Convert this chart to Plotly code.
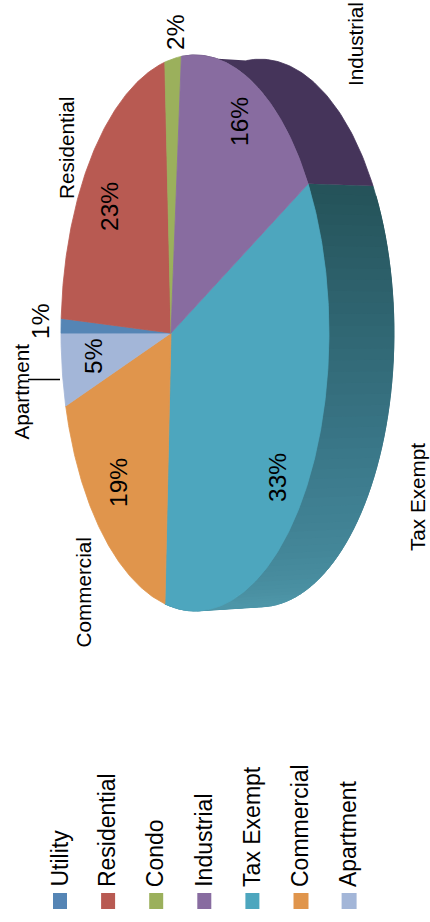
import numpy as np
import plotly.graph_objects as go

# Data
categories = ["Utility", "Residential", "Condo", "Industrial", "Tax Exempt", "Commercial", "Apartment"]
shares = [1, 23, 2, 16, 33, 19, 5]
colors = ["#5585b5", "#b85a52", "#9bb05c", "#886ca0", "#4da6be", "#e0954c", "#a3b6d8"]
draw_order = ["Tax Exempt", "Commercial", "Apartment", "Utility", "Residential", "Condo", "Industrial"]
outside_labels = ["Industrial", "Residential", "Apartment", "Commercial", "Tax Exempt"]

# Style / layout
W, H = 430, 922
FONT = "Liberation Sans"
CX, CY = 171.0, 333.0
A, B, K = 129.7, 273.5, 0.179   # projected-disc shape
DEPTH = 65.0
RIM_SQUEEZE = 0.985
START = 27.3
SIDE_DARK = np.array([0x25, 0x53, 0x5a])
SIDE_MID = np.array([0x3d, 0x7c, 0x8e])
SIDE_LIGHT = np.array([0x4e, 0x96, 0xa8])
IND_SIDE = "#45345a"
pct_pos = {"Condo": (175, 33), "Industrial": (239, 122), "Residential": (109, 207), "Utility": (40, 322),
           "Apartment": (93, 357), "Commercial": (118, 483), "Tax Exempt": (277, 478)}
lab_pos = {"Industrial": (355, 44), "Residential": (66, 148), "Apartment": (20.5, 392),
           "Commercial": (82.5, 593), "Tax Exempt": (417, 497)}


def rim(theta_deg):
    t = np.radians(theta_deg)
    u, v = np.cos(t), np.sin(t)
    d = 1 - K * u
    return CX + A * u / d, CY - B * v / d


def wall(x, y):
    yb = CY + (y - CY) * RIM_SQUEEZE
    return np.r_[x, x[::-1] + DEPTH], np.r_[y, yb[::-1]]


value = dict(zip(categories, shares))
color = dict(zip(categories, colors))
total = sum(shares)
fig = go.Figure()

spans = {}
a = START
for c in draw_order:
    s = value[c] / total * 360
    spans[c] = (a, a - s)
    a -= s


def add_poly(xs, ys, col, name):
    fig.add_trace(go.Scatter(x=xs, y=ys, mode="lines", fill="toself", fillcolor=col,
                             line=dict(color=col, width=0.8), hoverinfo="text", text=name,
                             showlegend=False))


# side wall: Industrial
a0, a1 = spans["Industrial"]
th = np.linspace(a0, a1, 60)
x, y = rim(th)
wx, wy = wall(x, y)
add_poly(wx, wy, IND_SIDE, "Industrial")

# side wall: Tax Exempt, shaded in narrow overlapping strips
a0, a1 = spans["Tax Exempt"]
edges = np.linspace(a0, a1, 61)
for i in range(60):
    th = np.linspace(edges[i], edges[min(i + 2, 60)], 5)
    x, y = rim(th)
    f = i / 59
    if f < 0.45:
        c = SIDE_DARK + (SIDE_MID - SIDE_DARK) * (f / 0.45)
    else:
        c = SIDE_MID + (SIDE_LIGHT - SIDE_MID) * min((f - 0.45) / 0.35, 1)
    col = "rgb(%d,%d,%d)" % tuple(c)
    wx, wy = wall(x, y)
    add_poly(wx, wy, col, "Tax Exempt")

# top face
for c in draw_order:
    a0, a1 = spans[c]
    th = np.linspace(a0, a1, max(4, int(abs(a0 - a1)) * 2))
    x, y = rim(th)
    add_poly(np.r_[CX, x, CX], np.r_[CY, y, CY], color[c], c)

ann = []
for c in categories:
    px, py = pct_pos[c]
    ann.append(dict(x=px, y=py, text=f"{value[c]}%", textangle=-90, showarrow=False,
                    font=dict(family=FONT, size=24.5, color="black"), xanchor="center", yanchor="middle"))
for c in outside_labels:
    px, py = lab_pos[c]
    ann.append(dict(x=px, y=py, text=c, textangle=-90, showarrow=False,
                    font=dict(family=FONT, size=20.7, color="black"), xanchor="center", yanchor="middle"))

shapes = [dict(type="line", x0=28, x1=60, y0=379.5, y1=379.5, line=dict(color="black", width=1.5))]
for i, c in enumerate(categories):
    lx = 60 + 48.1 * i
    shapes.append(dict(type="rect", x0=lx - 7, x1=lx + 7 + (1 if i > 4 else 0), y0=893, y1=909,
                       fillcolor=color[c], line=dict(width=0)))
    ann.append(dict(x=lx - 1, y=889, text=c, textangle=-90, showarrow=False,
                    font=dict(family=FONT, size=23, color="black"), xanchor="center", yanchor="bottom"))

fig.update_layout(
    width=W, height=H, margin=dict(l=0, r=0, t=0, b=0), paper_bgcolor="white", plot_bgcolor="white",
    xaxis=dict(range=[0, W], visible=False, fixedrange=True),
    yaxis=dict(range=[H, 0], visible=False, fixedrange=True),
    annotations=ann, shapes=shapes, showlegend=False,
)
fig.write_html("out.html", config={"displayModeBar": False},
               post_script="document.body.style.margin='0';document.documentElement.style.overflow='hidden';window.dispatchEvent(new Event('resize'));")
